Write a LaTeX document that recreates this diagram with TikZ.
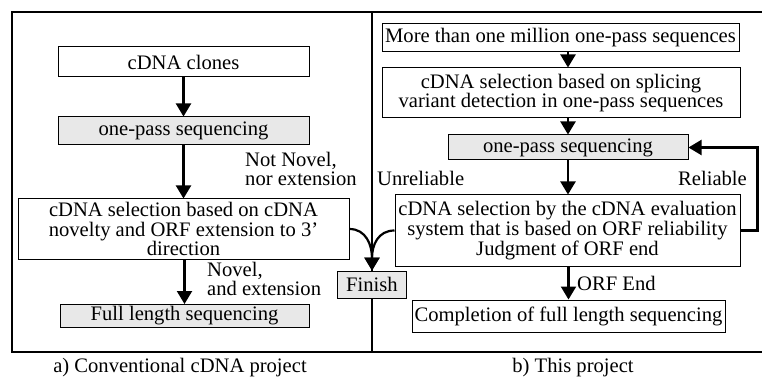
\documentclass[tikz,border=0pt]{standalone}
\usepackage{fontspec}
\setmainfont{Liberation Serif}
\usetikzlibrary{arrows.meta}
\definecolor{boxgray}{RGB}{232,232,232}
\tikzset{
  x=1pt, y=-1pt,
  box/.style={draw, line width=1pt, inner sep=0pt, align=center,
    font=\fontsize{20.6}{19.8}\selectfont},
  graybox/.style={box, fill=boxgray},
  lbl/.style={inner sep=0pt, font=\fontsize{20.6}{19.5}\selectfont},
  flow/.style={line width=2.2pt, -{Triangle[width=15pt,length=13pt]}},
  frame/.style={line width=1.2pt}
}
\begin{document}
\begin{tikzpicture}
\useasboundingbox (0,0) rectangle (762,379);
% outer frame
\draw[frame] (762,12) -- (12,12) -- (12,352) -- (762,352);

% left panel: conventional project
\node[box, minimum width=251, minimum height=30] (clones) at (183.5,62) {cDNA clones};
\node[graybox, minimum width=251, minimum height=28] (op1) at (183.5,131) {one-pass sequencing};
\node[box, minimum width=331, minimum height=60] (sel1) at (183.5,229)
  {cDNA selection based on cDNA\\novelty and ORF extension to 3’\\direction};
\node[graybox, minimum width=249, minimum height=23] (full) at (184.5,316) {Full length sequencing};
\node[graybox, minimum width=69, minimum height=27] (finish) at (372,284.5) {Finish};

% right panel: this project
\node[box, minimum width=357, minimum height=28] (million) at (560.5,38)
  {More than one million one-pass sequences};
\node[box, minimum width=358, minimum height=50] (splice) at (561,93)
  {cDNA selection based on splicing\\variant detection in one-pass sequences};
\node[graybox, minimum width=240, minimum height=25] (op2) at (568,147.5) {one-pass sequencing};
\node[box, minimum width=345, minimum height=71] (sel2) at (567.5,230.5)
  {cDNA selection by the cDNA evaluation\\system that is based on ORF reliability\\Judgment of ORF end};
\node[box, minimum width=313, minimum height=32] (complete) at (568.5,316)
  {Completion of full length sequencing};

% divider between the panels, interrupted by the Finish box
\coordinate (divtop) at (372,12);
\coordinate (divbot) at (372,352);
\draw[frame] (divtop) -- (finish.north);
\draw[frame] (finish.south) -- (divbot);

% connectors, left
\draw[flow] (clones) -- (op1);
\draw[flow] (op1) -- (sel1);
\draw[flow] (sel1.south -| full.north) -- (full.north);
\draw[flow] (sel1.east) .. controls (366,229) and (372,245) .. (finish.north);

% connectors, right
\draw[flow] (million.south -| op2.north) -- (splice.north -| op2.north);
\draw[flow] (splice.south -| op2.north) -- (op2.north);
\draw[flow] (op2) -- (sel2.north -| op2.south);
\draw[flow] (sel2.west) .. controls (378,230.5) and (372,245) .. (finish.north);
\draw[flow] (sel2.east) -- ++(17,0) |- (op2.east);
\draw[flow] (sel2.south -| complete.north) -- (complete.north);

% labels
\node[lbl, anchor=west, align=left] (notnovel) at (245,169) {Not Novel,\\nor extension};
\node[lbl, anchor=west, align=left] (novel) at (207,279) {Novel,\\and extension};
\node[lbl, anchor=west] (unrel) at (377,178) {Unreliable};
\node[lbl, anchor=east] (rel) at (747,178) {Reliable};
\node[lbl, anchor=west] (orfend) at (577,283) {ORF End};

% captions
\node[lbl] (capa) at (180,368) {a) Conventional cDNA project};
\node[lbl] (capb) at (573,368) {b) This project};
\end{tikzpicture}
\end{document}
